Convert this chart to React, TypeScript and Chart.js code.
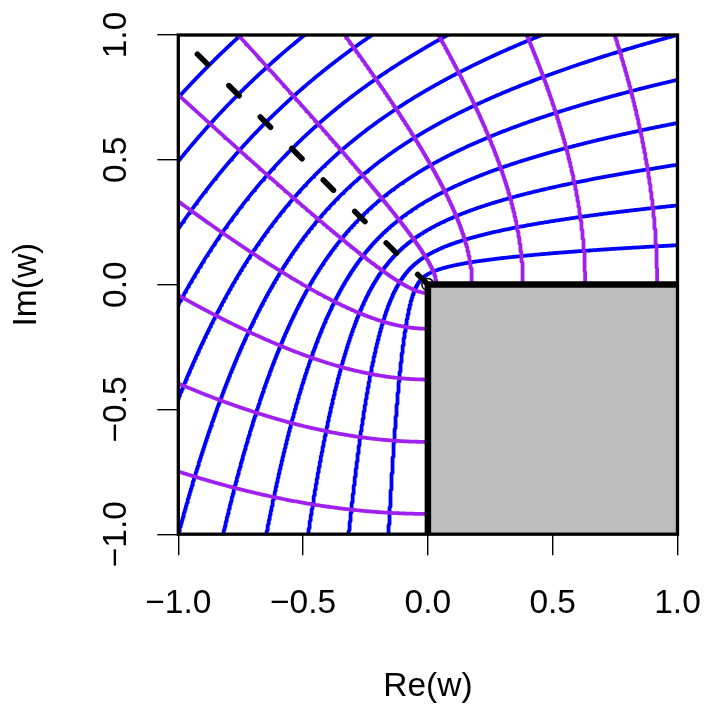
import { useEffect, useRef } from "react";
import { Chart, registerables } from "chart.js";

Chart.register(...registerables);

// ---- data ----
const xTickValues = [-1, -0.5, 0, 0.5, 1];
const xTickLabels = ["\u22121.0", "\u22120.5", "0.0", "0.5", "1.0"];
const yTickValues = [-1, -0.5, 0, 0.5, 1];
const yTickLabels = ["\u22121.0", "\u22120.5", "0.0", "0.5", "1.0"];

// z-plane grid lines (upper half plane) whose images under w = z^(3/2) are drawn
const imLevels = [0.105, 0.21, 0.315, 0.42, 0.525, 0.63, 0.735, 0.84, 0.945, 1.05, 1.155]; // Im z = const (blue)
const reLevels = [-1.155, -0.945, -0.735, -0.525, -0.315, -0.105, 0.105, 0.315, 0.525, 0.735, 0.945, 1.155]; // Re z = const (purple)
const paramRange = [-1.4, 1.4];
const cutRay = [
  { x: 0, y: 0 },
  { x: -1, y: 1 },
];
const originMark = [{ x: 0, y: 0 }];
const shadedRe = [0, 1];
const shadedIm = [-1, 0];

const BLUE = "#0000FF";
const PURPLE = "#A020F0";
const FONT = "Liberation Sans";

function mapPower(x: number, y: number) {
  const r = Math.hypot(x, y);
  const th = Math.atan2(y, x);
  const R = Math.pow(r, 1.5);
  return { x: R * Math.cos(1.5 * th), y: R * Math.sin(1.5 * th) };
}

function horizontalImage(h: number) {
  const pts: { x: number; y: number }[] = [];
  const N = 700;
  for (let i = 0; i <= N; i++) {
    const s = paramRange[0] + ((paramRange[1] - paramRange[0]) * i) / N;
    pts.push(mapPower(s, h));
  }
  return pts;
}

function verticalImage(c: number) {
  const pts: { x: number; y: number }[] = [];
  const N = 400;
  for (let i = 0; i <= N; i++) {
    const t = (paramRange[1] * i) / N;
    pts.push(mapPower(c, t));
  }
  return pts;
}

const overlayPlugin = {
  id: "overlay",
  afterDatasetsDraw(chart: any) {
    const { ctx, chartArea: a, scales } = chart;
    const xs = scales.x;
    const ys = scales.y;
    const x0 = xs.getPixelForValue(shadedRe[0]);
    const x1 = xs.getPixelForValue(shadedRe[1]);
    const yTop = ys.getPixelForValue(shadedIm[1]);
    const yBot = ys.getPixelForValue(shadedIm[0]);
    ctx.save();
    ctx.beginPath();
    ctx.rect(a.left, a.top, a.right - a.left, a.bottom - a.top);
    ctx.clip();
    ctx.fillStyle = "#BEBEBE";
    ctx.fillRect(x0, yTop, x1 - x0, yBot - yTop);
    ctx.strokeStyle = "#000";
    ctx.lineWidth = 6.5;
    ctx.lineJoin = "miter";
    ctx.beginPath();
    ctx.moveTo(x0, yBot + 10);
    ctx.lineTo(x0, yTop);
    ctx.lineTo(x1 + 10, yTop);
    ctx.stroke();
    ctx.restore();

    ctx.save();
    ctx.strokeStyle = "#000";
    ctx.lineWidth = 3.3;
    ctx.strokeRect(a.left, a.top, a.right - a.left, a.bottom - a.top);
    ctx.restore();
  },
};

function zeroPadding(s: any) {
  s.paddingLeft = 0;
  s.paddingRight = 0;
  s.paddingTop = 0;
  s.paddingBottom = 0;
}

export default function App() {
  const ref = useRef<HTMLCanvasElement | null>(null);

  useEffect(() => {
    if (!ref.current) return;
    const datasets: any[] = [];
    datasets.push({
      data: cutRay,
      showLine: true,
      borderColor: "#000",
      borderWidth: 5.5,
      borderDash: [14.5, 30],
      borderCapStyle: "round",
      pointRadius: 0,
    });
    datasets.push({
      data: originMark,
      showLine: false,
      pointRadius: 6,
      pointBorderColor: "#000",
      pointBackgroundColor: "rgba(0,0,0,0)",
      pointBorderWidth: 1.5,
    });
    reLevels.forEach((c) =>
      datasets.push({
        data: verticalImage(c),
        showLine: true,
        borderColor: PURPLE,
        borderWidth: 3.8,
        pointRadius: 0,
        borderJoinStyle: "round",
      })
    );
    imLevels.forEach((h) =>
      datasets.push({
        data: horizontalImage(h),
        showLine: true,
        borderColor: BLUE,
        borderWidth: 3.8,
        pointRadius: 0,
        borderJoinStyle: "round",
      })
    );

    const tickFont = { family: FONT, size: 33.5 };
    const chart = new Chart(ref.current, {
      type: "scatter",
      data: { datasets },
      plugins: [overlayPlugin],
      options: {
        animation: false,
        responsive: false,
        events: [],
        layout: { padding: { left: 0, right: 27.5, top: 35, bottom: 0 } },
        plugins: { legend: { display: false }, tooltip: { enabled: false } },
        elements: { line: { tension: 0 } },
        scales: {
          x: {
            type: "linear",
            min: -1,
            max: 1,
            afterBuildTicks: (s: any) => {
              s.ticks = xTickValues.map((v) => ({ value: v }));
            },
            afterFit: (s: any) => {
              s.height = 704 - 534.2;
              zeroPadding(s);
            },
            grid: {
              display: true,
              drawOnChartArea: false,
              drawTicks: true,
              tickLength: 21,
              color: "#000",
              lineWidth: 1.4,
            },
            border: { display: false },
            ticks: {
              autoSkip: false,
              maxRotation: 0,
              minRotation: 0,
              padding: 28.5,
              color: "#000",
              font: tickFont,
              callback: (_v: any, i: number) => xTickLabels[i],
            },
            title: {
              display: true,
              text: "Re(w)",
              color: "#000",
              font: { family: FONT, size: 33.5, lineHeight: 1 },
              padding: { top: 0, bottom: 0 },
            },
          },
          y: {
            type: "linear",
            min: -1,
            max: 1,
            afterBuildTicks: (s: any) => {
              s.ticks = yTickValues.map((v) => ({ value: v }));
            },
            afterFit: (s: any) => {
              s.width = 178.3;
              zeroPadding(s);
            },
            grid: {
              display: true,
              drawOnChartArea: false,
              drawTicks: true,
              tickLength: 21,
              color: "#000",
              lineWidth: 1.4,
            },
            border: { display: false },
            ticks: {
              autoSkip: false,
              minRotation: 90,
              maxRotation: 90,
              crossAlign: "center",
              padding: 7.5,
              color: "#000",
              font: tickFont,
              callback: (_v: any, i: number) => yTickLabels[i],
            },
            title: {
              display: true,
              text: "Im(w)",
              color: "#000",
              font: { family: FONT, size: 33.5, lineHeight: 1 },
              padding: { top: 10, bottom: 0 },
            },
          },
        },
      } as any,
    });
    return () => chart.destroy();
  }, []);

  return (
    <div style={{ position: "absolute", left: 0, top: 0, width: 705, height: 704, background: "#fff" }}>
      <canvas ref={ref} width={705} height={704} style={{ display: "block" }} />
    </div>
  );
}
